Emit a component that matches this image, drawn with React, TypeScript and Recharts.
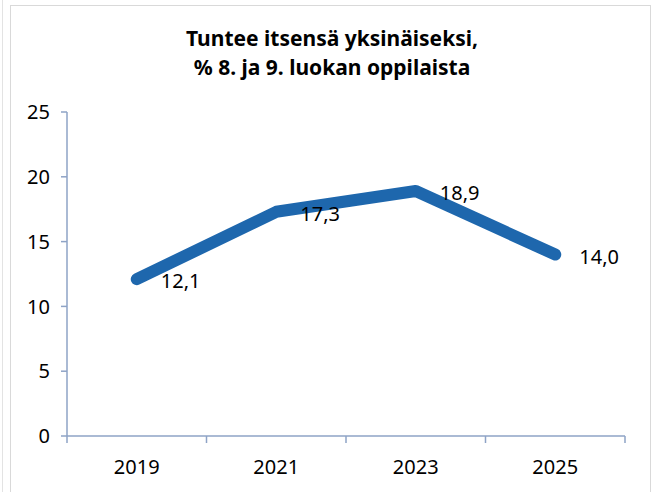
import React from 'react';
import { LineChart, Line, XAxis, YAxis, LabelList } from 'recharts';

const years = ['2019', '2021', '2023', '2025'];
const lonely = [12.1, 17.3, 18.9, 14.0];
const yTicks = [0, 5, 10, 15, 20, 25];

const data = years.map((year, i) => ({ year, pos: i + 0.5, value: lonely[i] }));
// tick marks sit on category boundaries, labels in the middle
const xTicks = years.flatMap((_, i) => [i, i + 0.5]).concat(years.length);

const axisColor = '#8EA3C6';
const font = '"Noto Sans", sans-serif';

function YearTick(props: any) {
  const { x, y, payload } = props;
  const v = payload.value as number;
  if (Number.isInteger(v)) {
    return <line x1={x} x2={x} y1={y - 8} y2={y - 1} stroke={axisColor} strokeWidth={1.5} />;
  }
  return (
    <text x={x} y={y + 30} textAnchor="middle" fontSize={20} fontFamily={font} fill="#000">
      {years[Math.floor(v)]}
    </text>
  );
}

function ValueLabel(props: any) {
  const { x, y, value } = props;
  return (
    <text x={x + 24} y={y + 9} fontSize={20} fontFamily={font} fill="#000">
      {Number(value).toFixed(1).replace('.', ',')}
    </text>
  );
}

export default function App() {
  return (
    <div style={{ position: 'absolute', left: 0, top: 0, width: 653, height: 492, background: '#fff' }}>
      <div style={{ position: 'absolute', left: 2, top: 0, width: 1, height: 492, background: '#e3e3e3' }} />
      <div
        style={{
          position: 'absolute',
          left: 10,
          top: 5,
          width: 639,
          height: 500,
          border: '1px solid #d9d9d9',
        }}
      />
      <div
        style={{
          position: 'absolute',
          left: 0,
          top: 24,
          width: 664,
          textAlign: 'center',
          fontFamily: font,
          fontWeight: 700,
          fontSize: 21,
          lineHeight: '29px',
          color: '#000',
        }}
      >
        Tuntee itsensä yksinäiseksi,
        <br />% 8. ja 9. luokan oppilaista
      </div>
      <LineChart
        width={653}
        height={492}
        data={data}
        margin={{ top: 112, right: 28, bottom: 6, left: 10 }}
        style={{ position: 'absolute', left: 0, top: 0 }}
      >
        <XAxis
          dataKey="pos"
          type="number"
          domain={[0, years.length]}
          ticks={xTicks}
          interval={0}
          tick={<YearTick />}
          tickLine={false}
          axisLine={{ stroke: axisColor, strokeWidth: 1.5 }}
          height={50}
        />
        <YAxis
          domain={[0, 25]}
          ticks={yTicks}
          interval={0}
          width={57}
          tickSize={6}
          tickMargin={11}
          tick={{ fill: '#000', fontSize: 20, fontFamily: font }}
          tickLine={{ stroke: axisColor, strokeWidth: 1.5 }}
          axisLine={{ stroke: axisColor, strokeWidth: 1.5 }}
        />
        <Line
          dataKey="value"
          type="linear"
          stroke="#1E67AD"
          strokeWidth={12}
          strokeLinecap="round"
          strokeLinejoin="round"
          dot={false}
          activeDot={false}
          isAnimationActive={false}
        >
          <LabelList dataKey="value" content={<ValueLabel />} />
        </Line>
      </LineChart>
    </div>
  );
}
